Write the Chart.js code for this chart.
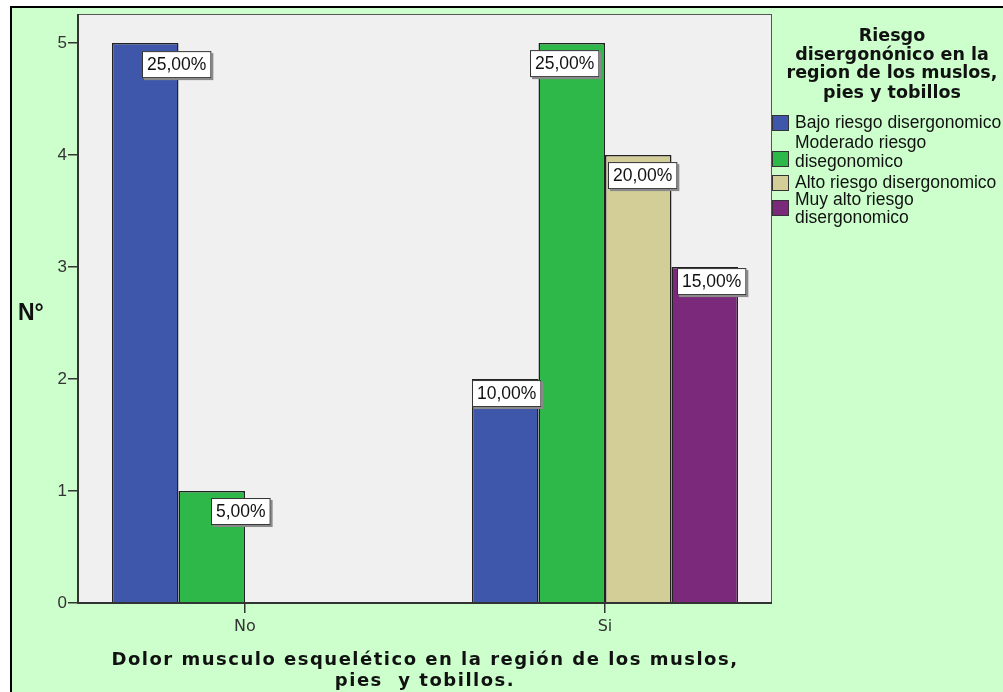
<!DOCTYPE html>
<html>
<head>
<meta charset="utf-8">
<script src="https://cdn.jsdelivr.net/npm/chart.js@4.4.0/dist/chart.umd.min.js"></script>
<style>
    html, body { margin: 0; padding: 0; background: #ffffff; }
    #wrap { position: absolute; left: 0; top: 0; width: 1003px; height: 692px; }
</style>
</head>
<body>
<div id="wrap"><canvas id="riesgoChart" width="1003" height="692"></canvas></div>
<script>
// categorias del eje X
const categories = ['No', 'Si'];
// valores de cada serie (N°)
const bajoRiesgo = [5, 2];
const moderadoRiesgo = [1, 5];
const altoRiesgo = [0, 4];
const muyAltoRiesgo = [0, 3];
// ticks del eje Y
const yTicks = [0, 1, 2, 3, 4, 5];
// textos de la leyenda
const legendTitle = ['Riesgo', 'disergonónico en la', 'region de los muslos,', 'pies y tobillos'];
const legendLabels = [
    ['Bajo riesgo disergonomico'],
    ['Moderado riesgo', 'disegonomico'],
    ['Alto riesgo disergonomico'],
    ['Muy alto riesgo', 'disergonomico']
];
const xTitle = ['Dolor musculo esquelético en la región de los muslos,', 'pies  y tobillos.'];
const yTitle = 'N°';

const colors = ['#3e57ab', '#2eb849', '#d3ce98', '#7b2a7b'];
const allSeries = [bajoRiesgo, moderadoRiesgo, altoRiesgo, muyAltoRiesgo];

// total para los porcentajes
let total = 0;
allSeries.forEach(s => s.forEach(v => total += v));

function pctText(v) {
    return (v / total * 100).toFixed(2).replace('.', ',') + '%';
}

// desplazamiento de las etiquetas respecto al centro/tope de cada barra
const labelDx = [[31, 1.5], [29, -7], [0, 4], [0, 6.5]];
const labelDy = [[8, 1], [7, 7], [0, 7], [0, 1]];

const paintPlugin = {
    id: 'paintPlugin',
    beforeDraw(chart) {
        const ctx = chart.ctx;
        const a = chart.chartArea;
        ctx.save();
        ctx.fillStyle = '#ffffff';
        ctx.fillRect(0, 0, chart.width, chart.height);
        ctx.fillStyle = '#ccffcc';
        ctx.fillRect(12, 8, chart.width - 12, chart.height - 8);
        ctx.fillStyle = '#000000';
        ctx.fillRect(10, 6, chart.width - 10, 2);
        ctx.fillRect(10, 6, 2, chart.height - 6);
        // fondo del area del grafico
        ctx.fillStyle = '#f0f0f0';
        ctx.fillRect(a.left, a.top, a.right - a.left, a.bottom - a.top);
        ctx.restore();
    },
    afterDatasetsDraw(chart) {
        const ctx = chart.ctx;
        const a = chart.chartArea;
        ctx.save();

        // borde del area
        ctx.strokeStyle = '#555555';
        ctx.lineWidth = 1;
        ctx.strokeRect(a.left + 0.5, a.top + 0.5, a.right - a.left - 1, a.bottom - a.top);
        ctx.fillStyle = '#333333';
        ctx.fillRect(a.left - 1, a.top, 2, a.bottom - a.top + 1);
        ctx.fillRect(a.left, a.bottom - 1, a.right - a.left, 2);

        // etiquetas de porcentaje
        ctx.font = '17.5px "Liberation Sans"';
        ctx.textAlign = 'center';
        ctx.textBaseline = 'middle';
        chart.data.datasets.forEach((ds, i) => {
            const meta = chart.getDatasetMeta(i);
            meta.data.forEach((el, j) => {
                const v = ds.data[j].y;
                if (!v) return;
                const txt = pctText(v);
                const w = ctx.measureText(txt).width + 10;
                const h = 27;
                const cx = el.x + labelDx[i][j];
                const top = el.y + labelDy[i][j];
                const left = Math.round(cx - w / 2);
                ctx.fillStyle = '#8a8a8a';
                ctx.fillRect(left + 2, top + 2, w, h);
                ctx.fillStyle = '#ffffff';
                ctx.fillRect(left, top, w, h);
                ctx.strokeStyle = '#333333';
                ctx.strokeRect(left + 0.5, top + 0.5, w - 1, h - 1);
                ctx.fillStyle = '#111111';
                ctx.fillText(txt, left + w / 2, top + h / 2 + 1);
            });
        });

        // leyenda
        ctx.font = 'bold 17.5px "DejaVu Sans"';
        ctx.fillStyle = '#111111';
        const titleY = [36, 55, 73, 93];
        legendTitle.forEach((t, k) => ctx.fillText(t, 892, titleY[k]));

        ctx.font = '17.5px "Liberation Sans"';
        ctx.textAlign = 'left';
        const boxTop = [115, 151, 175, 200];
        const lineY = [[123], [143, 162], [183], [200, 218]];
        legendLabels.forEach((lines, k) => {
            ctx.fillStyle = colors[k];
            ctx.fillRect(772, boxTop[k], 17, 16);
            ctx.strokeStyle = '#333333';
            ctx.strokeRect(772.5, boxTop[k] + 0.5, 16, 15);
            ctx.fillStyle = '#111111';
            lines.forEach((l, n) => ctx.fillText(l, 795, lineY[k][n]));
        });

        // titulos de los ejes
        ctx.textBaseline = 'alphabetic';
        ctx.font = 'bold 23px "Liberation Sans"';
        ctx.fillText(yTitle, 18, 320);

        ctx.textAlign = 'center';
        ctx.font = 'bold 18px "DejaVu Sans"';
        ctx.letterSpacing = '1.5px';
        ctx.fillText(xTitle[0], (a.left + a.right) / 2, 665);
        ctx.fillText(xTitle[1], (a.left + a.right) / 2, 686);
        ctx.restore();
    }
};

const datasets = allSeries.map((s, i) => ({
    label: legendLabels[i].join(' '),
    data: s.map((v, j) => ({ x: j, y: v })),
    backgroundColor: colors[i],
    borderColor: '#222222',
    borderWidth: 1.5,
    barPercentage: 1,
    categoryPercentage: 0.739
}));

new Chart(document.getElementById('riesgoChart'), {
    type: 'bar',
    data: { datasets: datasets },
    plugins: [paintPlugin],
    options: {
        responsive: false,
        animation: false,
        devicePixelRatio: 1,
        layout: { padding: { left: 0, top: 14, right: 231, bottom: 0 } },
        plugins: {
            legend: { display: false },
            tooltip: { enabled: false }
        },
        scales: {
            x: {
                type: 'linear',
                min: -0.4639,
                max: 1.4639,
                offset: false,
                grid: { offset: false, drawOnChartArea: false, drawTicks: true, tickLength: 10, color: '#333333', lineWidth: 1.5 },
                border: { display: false },
                ticks: {
                    autoSkip: false,
                    maxRotation: 0,
                    padding: 4,
                    color: '#333333',
                    font: { family: 'DejaVu Sans', size: 16 },
                    callback: v => categories[v]
                },
                afterBuildTicks: s => { s.ticks = categories.map((c, i) => ({ value: i })); },
                afterFit: s => { s.height = 89; }
            },
            y: {
                min: 0,
                max: 5.26,
                grid: { drawOnChartArea: false, drawTicks: true, tickLength: 10, color: '#333333', lineWidth: 1.5 },
                border: { display: false },
                ticks: {
                    padding: 1,
                    color: '#333333',
                    font: { family: 'Liberation Sans', size: 17 }
                },
                afterBuildTicks: s => { s.ticks = yTicks.map(v => ({ value: v })); },
                afterFit: s => { s.width = 78; }
            }
        }
    }
});
</script>
</body>
</html>
